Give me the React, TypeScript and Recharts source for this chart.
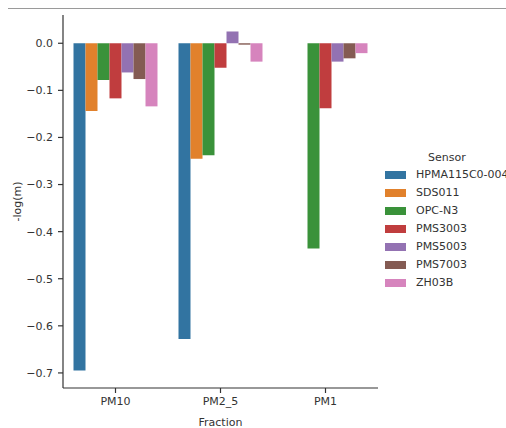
import { Bar, BarChart, XAxis, YAxis, Label } from 'recharts';

const fractions = ['PM10', 'PM2_5', 'PM1'];
const sensors = ['HPMA115C0-004', 'SDS011', 'OPC-N3', 'PMS3003', 'PMS5003', 'PMS7003', 'ZH03B'];

// -log(m) per fraction, one list per sensor (null = no value)
const hpma = [-0.695, -0.628, null];
const sds011 = [-0.144, -0.245, null];
const opcN3 = [-0.078, -0.238, -0.436];
const pms3003 = [-0.117, -0.052, -0.138];
const pms5003 = [-0.062, 0.025, -0.039];
const pms7003 = [-0.076, -0.003, -0.032];
const zh03b = [-0.134, -0.039, -0.021];

const yTicks = [0, -0.1, -0.2, -0.3, -0.4, -0.5, -0.6, -0.7];

const COLORS = ['#3274a1', '#e1812c', '#3a923a', '#c03d3e', '#9372b2', '#845b53', '#d684bd'];

const series = [hpma, sds011, opcN3, pms3003, pms5003, pms7003, zh03b];

const data = fractions.map((f, i) => {
    const row: Record<string, string | number | null> = { fraction: f };
    sensors.forEach((s, j) => {
        row[s] = series[j][i];
    });
    return row;
});

const FONT = '"DejaVu Sans", sans-serif';
const INK = '#333';

const fmt = (v: number) => (v === 0 ? '0.0' : '\u2212' + Math.abs(v).toFixed(1));

export default function App() {
    return (
        <div style={{ position: 'absolute', left: 0, top: 0, width: 506, height: 428, overflow: 'hidden', background: '#fff', fontFamily: FONT }}>
            <div style={{ position: 'absolute', left: 8, top: 8, width: 498, height: 1, background: '#9a9a9a' }} />
            <BarChart
                width={506}
                height={428}
                data={data}
                margin={{ top: 15, right: 128, left: 8, bottom: 10 }}
                barCategoryGap="10%"
                barGap={0}
                style={{ position: 'absolute', left: 0, top: 0 }}
            >
                <XAxis
                    dataKey="fraction"
                    height={30}
                    stroke={INK}
                    strokeWidth={1.2}
                    tickSize={5}
                    tickMargin={4}
                    tick={{ fill: INK, fontSize: 11, fontFamily: FONT }}
                >
                    <Label
                        content={({ viewBox }: any) => (
                            <text
                                x={viewBox.x + viewBox.width / 2}
                                y={viewBox.y + 33.7}
                                dy="0.35em"
                                textAnchor="middle"
                                fill={INK}
                                fontSize={11}
                                fontFamily={FONT}
                            >
                                Fraction
                            </text>
                        )}
                    />
                </XAxis>
                <YAxis
                    type="number"
                    width={55}
                    domain={[-0.732, 0.06]}
                    ticks={yTicks}
                    tickFormatter={fmt}
                    allowDataOverflow
                    stroke={INK}
                    strokeWidth={1.2}
                    tickSize={5}
                    tickMargin={5}
                    tick={{ fill: INK, fontSize: 11, fontFamily: FONT }}
                >
                    <Label
                        content={({ viewBox }: any) => {
                            const cx = viewBox.x + 9;
                            const cy = viewBox.y + viewBox.height / 2;
                            return (
                                <text
                                    x={cx}
                                    y={cy}
                                    dy="0.35em"
                                    textAnchor="middle"
                                    transform={`rotate(-90, ${cx}, ${cy})`}
                                    fill={INK}
                                    fontSize={11}
                                    fontFamily={FONT}
                                >
                                    -log(m)
                                </text>
                            );
                        }}
                    />
                </YAxis>
                {sensors.map((s, i) => (
                    <Bar key={s} dataKey={s} fill={COLORS[i]} isAnimationActive={false} />
                ))}
            </BarChart>
            <div style={{ position: 'absolute', left: 385, top: 149, whiteSpace: 'nowrap', fontSize: 11, color: INK, lineHeight: '18px' }}>
                <div style={{ position: 'absolute', left: 43, top: 0, width: 36, textAlign: 'center' }}>Sensor</div>
                {sensors.map((s, i) => (
                    <div key={s} style={{ position: 'absolute', left: 0, top: 17 + i * 18, height: 18, display: 'flex', alignItems: 'center' }}>
                        <span style={{ display: 'inline-block', width: 21, height: 8, background: COLORS[i], marginRight: 10 }} />
                        <span>{s}</span>
                    </div>
                ))}
            </div>
        </div>
    );
}
